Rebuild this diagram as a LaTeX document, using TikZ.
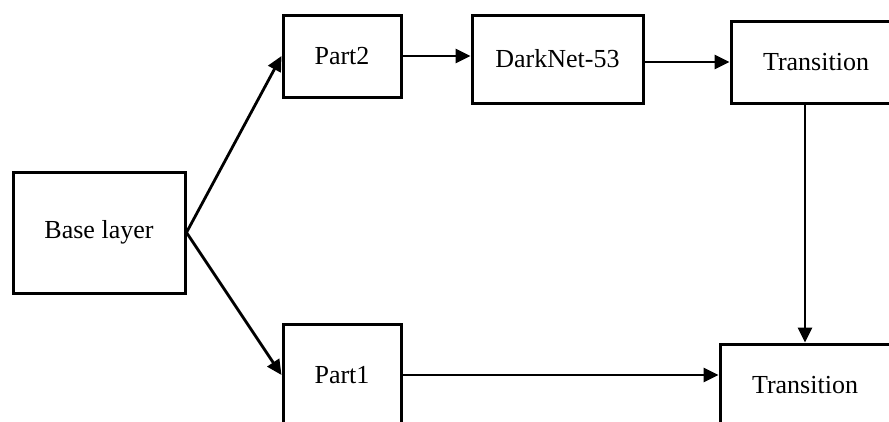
\documentclass[tikz,border=0pt]{standalone}
\usepackage{fontspec}
\setmainfont{Liberation Serif}
\usetikzlibrary{arrows.meta}
\begin{document}
\begin{tikzpicture}[x=1pt,y=-1pt,
  blk/.style={draw=black,line width=3pt,inner sep=0pt,font=\fontsize{26}{31}\selectfont},
  arr/.style={line width=2.8pt,-{Triangle[length=15pt,width=14pt]}}]
\useasboundingbox (0,0) rectangle (889,421);
\clip (0,0) rectangle (889,421);
\fill[white] (0,0) rectangle (889,421);
\node[blk,minimum width=172pt,minimum height=121pt] (base) at (99,232.5) {Base layer};
\node[blk,minimum width=118pt,minimum height=82pt] (part2) at (342,56) {Part2};
\node[blk,minimum width=171pt,minimum height=88pt] (dark) at (557.5,59) {DarkNet-53};
\node[blk,minimum width=170pt,minimum height=82pt] (trans1) at (816,62) {Transition};
\node[blk,minimum width=118pt,minimum height=102pt] (part1) at (342,375) {Part1};
\node[blk,minimum width=170pt,minimum height=82pt] (trans2) at (805,385) {Transition};
\draw[arr] (base.east) -- (part2.west);
\draw[arr] (base.east) -- (part1.west);
\draw[arr] (part2.east) -- (part2.east -| dark.west);
\draw[arr] (trans1.west -| dark.east) -- (trans1.west);
\draw[arr] (trans1.south -| trans2.north) -- (trans2.north);
\draw[arr] (part1.east) -- (part1.east -| trans2.west);
\end{tikzpicture}
\end{document}
